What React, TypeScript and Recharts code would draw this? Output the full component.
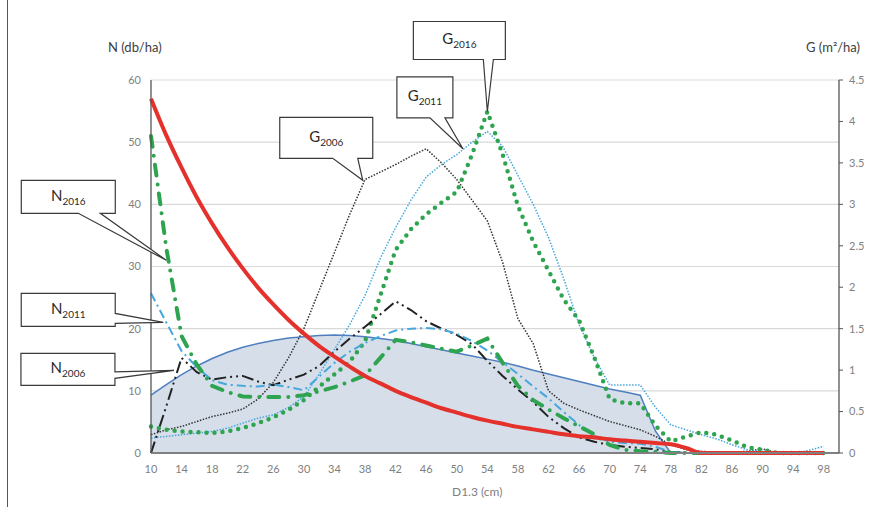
import React from 'react';
import { ComposedChart, Line, Area, XAxis, YAxis, CartesianGrid, ReferenceDot } from 'recharts';

const diameters = [10, 12, 14, 16, 18, 20, 22, 24, 26, 28, 30, 32, 34, 36, 38, 40, 42, 44, 46, 48, 50, 52, 54, 56, 58, 60, 62, 64, 66, 68, 70, 72, 74, 76, 78, 80, 82, 84, 86, 88, 90, 92, 94, 96, 98];
const xTicks = [10, 14, 18, 22, 26, 30, 34, 38, 42, 46, 50, 54, 58, 62, 66, 70, 74, 78, 82, 86, 90, 94, 98];
const nTicks = [0, 10, 20, 30, 40, 50, 60];
const gTicks = [0, 0.5, 1, 1.5, 2, 2.5, 3, 3.5, 4, 4.5];

// N (db/ha) – left axis
const nModel = [57, 51.1, 45.9, 41.1, 36.9, 33.1, 29.7, 26.6, 23.9, 21.4, 19.2, 17.2, 15.5, 13.9, 12.4, 11.2, 10.0, 9.0, 8.1, 7.2, 6.5, 5.8, 5.2, 4.7, 4.2, 3.8, 3.4, 3.0, 2.7, 2.5, 2.2, 2.0, 1.8, 1.6, 1.4, 0.8, 0, 0, 0, 0, 0, 0, 0, 0, 0];
const nEnvelope = [9.3, 11.0, 12.6, 14.0, 15.2, 16.2, 17.0, 17.6, 18.1, 18.5, 18.7, 18.9, 19.0, 18.9, 18.7, 18.4, 18.1, 17.6, 17.1, 16.6, 16.1, 15.6, 15.1, 14.6, 14.0, 13.3, 12.7, 12.1, 11.5, 10.9, 10.3, 9.8, 9.3, 3.5, 0, 0, 0, 0, 0, 0, 0, 0, 0, 0, 0];
const n2016 = [51, 33, 18.8, 14.2, 10.8, 9.8, 9.1, 9.0, 9.0, 9.0, 9.3, 9.9, 10.6, 11.5, 12.5, 15.3, 18.2, 17.8, 17.3, 16.8, 16.3, 17.3, 18.4, 14.5, 10.8, 8.5, 7.0, 5.6, 4.3, 3.0, 1.3, 0.5, 0.3, 0.2, 0, 0, 0, 0, 0, 0, 0, 0, 0, 0, 0];
const n2011 = [25.7, 21, 16.4, 13.8, 11.7, 11.0, 10.8, 10.7, 11.0, 10.6, 10.1, 12.3, 14.5, 16.3, 17.7, 18.8, 19.7, 20.0, 20.1, 19.9, 19.2, 18.0, 16.5, 14.6, 12.7, 10.7, 8.8, 6.6, 4.5, 2.8, 1.8, 1.6, 1.5, 1.0, 0.2, 0, 0, 0, 0, 0, 0, 0, 0, 0, 0];
const n2006 = [0, 7.5, 15.3, 13.0, 11.8, 12.2, 12.4, 11.5, 10.9, 11.8, 12.6, 14.0, 16.3, 18.4, 20.3, 22.3, 24.4, 23.0, 21.2, 20.0, 19.0, 17.5, 14.8, 12.4, 10.2, 8.2, 5.8, 4.0, 2.5, 1.8, 1.3, 1.0, 0.8, 0.6, 0.2, 0.1, 0, 0, 0, 0, 0, 0, 0, 0, 0];

// G (m2/ha) – right axis
const g2006 = [0.22, 0.28, 0.32, 0.38, 0.44, 0.48, 0.53, 0.65, 0.85, 1.15, 1.5, 1.96, 2.42, 2.88, 3.3, 3.39, 3.48, 3.58, 3.67, 3.5, 3.3, 3.05, 2.8, 2.3, 1.62, 1.32, 0.75, 0.6, 0.52, 0.45, 0.38, 0.33, 0.28, 0.2, 0.1, 0.04, 0.02, 0.01, 0.01, 0.02, 0.05, 0, 0, 0, 0];
const g2011 = [0.18, 0.2, 0.22, 0.24, 0.26, 0.3, 0.36, 0.42, 0.46, 0.55, 0.68, 0.95, 1.25, 1.55, 1.9, 2.35, 2.72, 3.05, 3.33, 3.48, 3.6, 3.75, 3.88, 3.7, 3.35, 3.0, 2.6, 2.1, 1.55, 1.15, 0.82, 0.82, 0.82, 0.55, 0.34, 0.28, 0.22, 0.17, 0.1, 0.04, 0.02, 0.01, 0, 0.03, 0.08];
const g2016 = [0.32, 0.28, 0.26, 0.25, 0.24, 0.26, 0.3, 0.36, 0.43, 0.52, 0.64, 0.8, 0.95, 1.1, 1.35, 1.9, 2.45, 2.7, 2.88, 3.02, 3.15, 3.6, 4.12, 3.6, 2.98, 2.55, 2.2, 1.85, 1.6, 1.15, 0.65, 0.6, 0.6, 0.33, 0.14, 0.2, 0.25, 0.22, 0.15, 0.07, 0.04, 0, 0, 0, 0];

const data = diameters.map((d, i) => ({
  d,
  nModel: nModel[i],
  nEnvelope: nEnvelope[i],
  n2016: n2016[i],
  n2011: n2011[i],
  n2006: n2006[i],
  g2006: g2006[i],
  g2011: g2011[i],
  g2016: g2016[i],
}));

const FONT = 'Lato, "Open Sans", sans-serif';
const GREEN = '#2fa450';
const LBLUE = '#45a7dc';
const RED = '#e5312b';

type Spec = {
  box: [number, number, number, number];
  edge: 'bottom' | 'right';
  base: [number, number];
  letter: string;
  sub: string;
};

function Callout(props: any) {
  const { cx, cy, spec } = props as { cx: number; cy: number; spec: Spec };
  if (cx == null || cy == null) return null;
  const [x0, y0, x1, y1] = spec.box;
  const L = cx + x0, T = cy + y0, R = cx + x1, B = cy + y1;
  let d = '';
  if (spec.edge === 'bottom') {
    const b1 = cx + spec.base[0], b2 = cx + spec.base[1];
    d = `M${L},${T}H${R}V${B}H${b2}L${cx},${cy}L${b1},${B}H${L}Z`;
  } else {
    const b1 = cy + spec.base[0], b2 = cy + spec.base[1];
    d = `M${L},${T}H${R}V${b1}L${cx},${cy}L${R},${b2}V${B}H${L}Z`;
  }
  return (
    <g>
      <path d={d} fill="#ffffff" stroke="#3a3a3a" strokeWidth={1.2} />
      <text x={(L + R) / 2} y={(T + B) / 2 + 4} textAnchor="middle" fontFamily={FONT} fill="#2a2a2a">
        <tspan fontSize={15}>{spec.letter}</tspan>
        <tspan fontSize={10} dy={4}>{spec.sub}</tspan>
      </text>
    </g>
  );
}

const callouts: { x: number; y: number; axis: string; spec: Spec }[] = [
  { x: 37.7, y: 3.29, axis: 'right', spec: { box: [-83, -63, 10, -22], edge: 'bottom', base: [-30, -5], letter: 'G', sub: '2006' } },
  { x: 50.8, y: 3.67, axis: 'right', spec: { box: [-66, -72, -10, -31], edge: 'bottom', base: [-33, -18], letter: 'G', sub: '2011' } },
  { x: 54, y: 4.12, axis: 'right', spec: { box: [-74, -90, 18, -52], edge: 'bottom', base: [-4, 6], letter: 'G', sub: '2016' } },
  { x: 12, y: 31, axis: 'left', spec: { box: [-145, -80, -51, -47], edge: 'bottom', base: [-88, -66], letter: 'N', sub: '2016' } },
  { x: 11.6, y: 21, axis: 'left', spec: { box: [-142, -29, -48, 4], edge: 'right', base: [-9, 1], letter: 'N', sub: '2011' } },
  { x: 13.0, y: 13.3, axis: 'left', spec: { box: [-153, -17, -59, 15], edge: 'right', base: [1.5, 8], letter: 'N', sub: '2006' } },
];

export default function App() {
  return (
    <div style={{ position: 'absolute', left: 0, top: 0, width: 887, height: 507, background: '#ffffff', overflow: 'hidden', fontFamily: FONT }}>
      <div style={{ position: 'absolute', left: 7, top: 0, width: 1, height: 507, background: '#555' }} />
      <div style={{ position: 'absolute', left: 108, top: 39, fontSize: 13, color: '#404040' }}>N (db/ha)</div>
      <div style={{ position: 'absolute', left: 806, top: 39, fontSize: 13, color: '#404040' }}>G (m²/ha)</div>
      <div style={{ position: 'absolute', left: 452, top: 484, fontSize: 12, color: '#7f7f7f' }}>D1.3 (cm)</div>
      <div style={{ position: 'absolute', left: 0, top: 0 }}>
        <ComposedChart width={887} height={507} data={data} margin={{ top: 80, right: 8, bottom: 24, left: 111 }}>
          <CartesianGrid yAxisId="left" vertical={false} stroke="#d9d9d9" strokeWidth={1.2} />
          <XAxis
            dataKey="d"
            type="number"
            domain={[10, 100]}
            ticks={xTicks}
            interval={0}
            tickLine={false}
            axisLine={{ stroke: '#808080', strokeWidth: 2 }}
            tick={{ fill: '#7f7f7f', fontSize: 11, fontFamily: FONT }}
            tickMargin={6}
            height={30}
          />
          <YAxis
            yAxisId="left"
            domain={[0, 60]}
            ticks={nTicks}
            interval={0}
            tickLine={false}
            axisLine={{ stroke: '#555', strokeWidth: 1.3 }}
            tick={{ fill: '#7f7f7f', fontSize: 11, fontFamily: FONT }}
            tickMargin={4}
            width={40}
          />
          <YAxis
            yAxisId="right"
            orientation="right"
            domain={[0, 4.5]}
            ticks={gTicks}
            interval={0}
            tickSize={4}
            tickLine={{ stroke: '#555' }}
            axisLine={{ stroke: '#555', strokeWidth: 1.3 }}
            tick={{ fill: '#7f7f7f', fontSize: 11, fontFamily: FONT }}
            tickMargin={6}
            width={40}
          />
          <Area yAxisId="left" dataKey="nEnvelope" type="linear" fill="#d6dee9" fillOpacity={1} stroke="#4f7fbf" strokeWidth={1.5} isAnimationActive={false} dot={false} activeDot={false} />
          <Line yAxisId="right" dataKey="g2006" type="linear" stroke="#333333" strokeWidth={1.5} strokeDasharray="1.5 1.5" dot={false} activeDot={false} isAnimationActive={false} />
          <Line yAxisId="right" dataKey="g2011" type="linear" stroke={LBLUE} strokeWidth={1.5} strokeDasharray="1.5 1.5" dot={false} activeDot={false} isAnimationActive={false} />
          <Line yAxisId="right" dataKey="g2016" type="linear" stroke={GREEN} strokeWidth={4.5} strokeDasharray="0 8" strokeLinecap="round" dot={false} activeDot={false} isAnimationActive={false} />
          <Line yAxisId="left" dataKey="n2006" type="linear" stroke="#222222" strokeWidth={2} strokeDasharray="12 4 2 4 2 4" dot={false} activeDot={false} isAnimationActive={false} />
          <Line yAxisId="left" dataKey="n2011" type="linear" stroke={LBLUE} strokeWidth={2} strokeDasharray="9 4 2 4" dot={false} activeDot={false} isAnimationActive={false} />
          <Line yAxisId="left" dataKey="n2016" type="linear" stroke={GREEN} strokeWidth={4} strokeDasharray="11 9 0 9" strokeLinecap="round" dot={false} activeDot={false} isAnimationActive={false} />
          <Line yAxisId="left" dataKey="nModel" type="monotone" stroke={RED} strokeWidth={4} dot={false} activeDot={false} isAnimationActive={false} />
          {callouts.map((c, i) => (
            <ReferenceDot
              key={i}
              x={c.x}
              y={c.y}
              yAxisId={c.axis}
              ifOverflow="visible"
              shape={(p: any) => <Callout cx={p.cx} cy={p.cy} spec={c.spec} />}
            />
          ))}
        </ComposedChart>
      </div>
    </div>
  );
}
